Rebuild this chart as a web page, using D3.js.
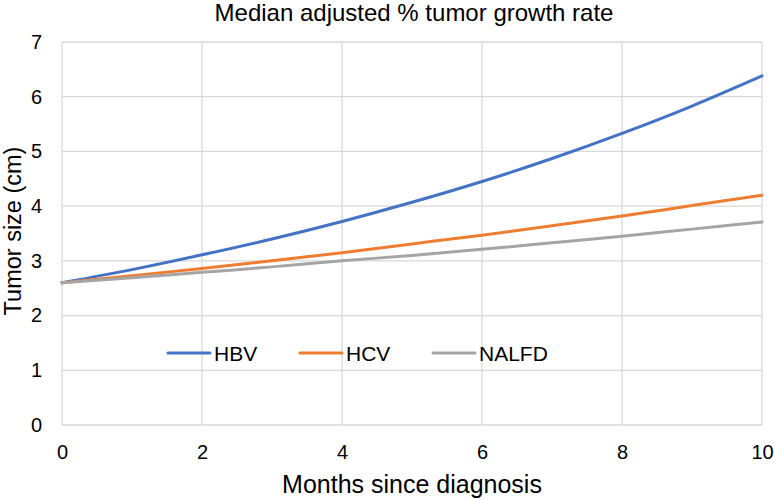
<!DOCTYPE html>
<html><head><meta charset="utf-8">
<script src="https://cdn.jsdelivr.net/npm/d3@7"></script>
<style>body{margin:0;background:#fff}svg{display:block;font-family:"Liberation Sans",Arial,sans-serif}</style>
</head><body><svg id="c" width="774" height="500"></svg>
<script>
const months = [0,1,2,3,4,5,6,7,8,9,10];
const hbv   = [2.60,2.84,3.11,3.40,3.72,4.07,4.45,4.87,5.33,5.83,6.38];
const hcv   = [2.60,2.73,2.86,3.00,3.15,3.31,3.47,3.64,3.82,4.01,4.20];
const nalfd = [2.60,2.69,2.79,2.89,3.00,3.10,3.21,3.33,3.45,3.58,3.71];
const seriesNames = ["HBV","HCV","NALFD"];
const xTicks = [0,2,4,6,8,10];
const yTicks = [0,1,2,3,4,5,6,7];
const colors = ["#4472C4","#ED7D31","#A5A5A5"];

const svg = d3.select("#c");
const m = {l:62, r:12, t:42, b:75};
const W = 774, H = 500;
const x = d3.scaleLinear().domain([0,10]).range([m.l, W-m.r]);
const y = d3.scaleLinear().domain([0,7]).range([H-m.b, m.t]);

// grid
svg.append("g").selectAll("line").data(yTicks).join("line")
  .attr("x1", x(0)).attr("x2", x(10)).attr("y1", d=>y(d)).attr("y2", d=>y(d))
  .attr("stroke","#D9D9D9").attr("stroke-width",1.3);
svg.append("g").selectAll("line").data(xTicks).join("line")
  .attr("y1", y(0)).attr("y2", y(7)).attr("x1", d=>x(d)).attr("x2", d=>x(d))
  .attr("stroke","#D9D9D9").attr("stroke-width",1.3);

// axes labels
const xa = svg.append("g").attr("transform",`translate(0,${y(0)})`)
  .call(d3.axisBottom(x).tickValues(xTicks).tickSize(0).tickPadding(20).tickFormat(d3.format("d")));
xa.select(".domain").remove();
xa.selectAll("text").attr("font-size",20).attr("fill","#000").attr("font-family","Liberation Sans, Arial, sans-serif");
const ya = svg.append("g").attr("transform",`translate(${x(0)},0)`)
  .call(d3.axisLeft(y).tickValues(yTicks).tickSize(0).tickPadding(20).tickFormat(d3.format("d")));
ya.select(".domain").remove();
ya.selectAll("text").attr("font-size",20).attr("fill","#000").attr("font-family","Liberation Sans, Arial, sans-serif");

// lines
const data = [hbv,hcv,nalfd];
const line = d3.line().x((d,i)=>x(months[i])).y(d=>y(d)).curve(d3.curveMonotoneX);
svg.append("g").selectAll("path").data(data).join("path")
  .attr("d", line).attr("fill","none")
  .attr("stroke",(d,i)=>colors[i]).attr("stroke-width",3).attr("stroke-linecap","round");

// titles
svg.append("text").attr("x", 414).attr("y", 21).attr("text-anchor","middle")
  .attr("font-size",24).text("Median adjusted % tumor growth rate");
svg.append("text").attr("x", 412).attr("y", 493).attr("text-anchor","middle")
  .attr("font-size",25).text("Months since diagnosis");
svg.append("text").attr("transform","translate(21,231) rotate(-90)").attr("text-anchor","middle")
  .attr("font-size",23.5).text("Tumor size (cm)");

// legend
const lx = [168, 300, 433];
const lg = svg.append("g").selectAll("g").data(seriesNames).join("g")
  .attr("transform",(d,i)=>`translate(${lx[i]},353)`);
lg.append("line").attr("x1",0).attr("x2",42).attr("y1",0).attr("y2",0)
  .attr("stroke",(d,i)=>colors[i]).attr("stroke-width",3).attr("stroke-linecap","round");
lg.append("text").attr("x",46).attr("y",7.5).attr("font-size",21).text(d=>d);
</script></body></html>
